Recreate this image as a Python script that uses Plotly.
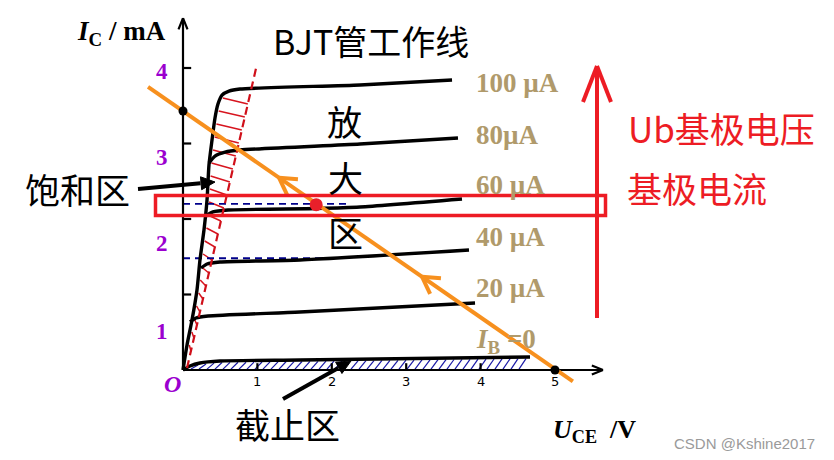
import numpy as np
import plotly.graph_objects as go

W, H = 834, 460          # browser window
BODY = 8                 # default page margin around the plot div
FW, FH = W - 2 * BODY, H - 2 * BODY
# reference geometry: origin of the axes at window pixel (183, 370); px per V / per mA
OX, OY, SX, SY = 183.0, 370.0, 74.4, 75.5

# ---------------- data (U_CE in V, I_C in mA) ----------------
ib_labels = ["100 µA", "80µA", "60 µA", "40 µA", "20 µA", "<i>I</i><sub>B</sub> =0"]

ib100_x = [0.000, 0.054, 0.121, 0.188, 0.228, 0.282, 0.323, 0.349, 0.390, 0.430, 0.470, 0.524, 0.618, 0.766, 2.379, 3.616]
ib100_y = [0.000, 0.331, 0.662, 1.060, 1.457, 1.854, 2.252, 2.715, 3.046, 3.338, 3.523, 3.642, 3.695, 3.722, 3.775, 3.841]
ib80_x = [0.349, 0.430, 0.565, 0.766, 2.379, 3.696]
ib80_y = [2.742, 2.834, 2.887, 2.914, 2.993, 3.073]
ib60_x = [0.309, 0.403, 0.605, 1.788, 2.379, 3.750]
ib60_y = [2.040, 2.093, 2.119, 2.139, 2.159, 2.265]
ib40_x = [0.242, 0.323, 0.497, 1.573, 3.844]
ib40_y = [1.351, 1.404, 1.430, 1.457, 1.589]
ib20_x = [0.094, 0.175, 0.336, 1.573, 3.925]
ib20_y = [0.636, 0.689, 0.715, 0.768, 0.887]
ib0_x = [0.000, 0.094, 0.228, 0.497, 1.573, 4.664]
ib0_y = [0.000, 0.053, 0.093, 0.119, 0.132, 0.172]

sat_x = [0.054, 0.995]          # saturation boundary (red dashed)
sat_y = [0.026, 4.053]
load_x = [-0.47, 5.24]          # load line
load_y = [3.75, -0.15]
intercept_x = [0.0, 5.0]        # Vcc / Rc and Vcc
intercept_y = [3.43, 0.0]
q_x = [1.79]                    # operating point
q_y = [2.19]
dash1_x = [0.0, 2.24]
dash1_y = [2.20, 2.20]
dash2_x = [0.0, 2.04]
dash2_y = [1.48, 1.48]

x_ticks = [1, 2, 3, 4, 5]
x_ticklabels = ["1", "2", "3", "4", "5"]
y_ticks = [1, 2, 3, 4]
y_ticklabels = ["1", "2", "3", "4"]
x_axis_end = 5.645
y_axis_end = 4.66

# ---------------- helpers ----------------
def to_px(x, y):
    return OX + x * SX, OY - y * SY

def to_data(px, py):
    return (px - OX) / SX, (OY - py) / SY

def pp(px, py):
    return (px - BODY) / FW, 1 - (py - BODY) / FH

def chevron(tip_x, tip_y, back_dx, back_dy, length, half_angle_deg):
    """two arm segments of an open arrow head (data coords)"""
    tx, ty = to_px(tip_x, tip_y)
    n = np.hypot(back_dx, back_dy)
    bx, by = back_dx / n, back_dy / n
    xs, ys = [], []
    for s in (1, -1):
        a = np.radians(half_angle_deg) * s
        rx = bx * np.cos(a) - by * np.sin(a)
        ry = bx * np.sin(a) + by * np.cos(a)
        ex, ey = tx + length * rx, ty + length * ry
        d0 = to_data(tx, ty)
        d1 = to_data(ex, ey)
        xs += [d0[0], d1[0], None]
        ys += [d0[1], d1[1], None]
    return xs, ys

fig = go.Figure()

# blue hatched cut-off region (strokes between the axis and the I_B=0 curve)
hx, hy = [], []
for p in np.arange(191, 522, 8.0):
    xb = to_data(p, 0)[0]
    xt = to_data(p + 7, 0)[0]
    yt = float(np.interp(xt, ib0_x, ib0_y)) - 0.02
    hx += [xb, xt, None]
    hy += [0.012, yt, None]
fig.add_trace(go.Scatter(x=hx, y=hy, mode="lines", line=dict(color="#1a1aa6", width=1.2), hoverinfo="skip"))

# red hatched saturation region (strokes between steep part of curves and boundary)
top_i = 11
rx_, ry_ = [], []
for p in np.arange(98, 362, 13.0):
    yl = to_data(0, p)[1]
    xl = float(np.interp(yl, ib100_y[:top_i + 1], ib100_x[:top_i + 1])) + 0.03
    yr = to_data(0, p + 6)[1]
    xr = float(np.interp(yr, sat_y, sat_x))
    if xr > xl + 0.02:
        rx_ += [xl, xr, None]
        ry_ += [yl, yr, None]
fig.add_trace(go.Scatter(x=rx_, y=ry_, mode="lines", line=dict(color="#d7141e", width=1.5), hoverinfo="skip"))

# blue dashed guide lines
for xx, yy in ((dash1_x, dash1_y), (dash2_x, dash2_y)):
    fig.add_trace(go.Scatter(x=xx, y=yy, mode="lines",
                             line=dict(color="#00008b", width=1.8, dash="7px,5px"), hoverinfo="skip"))

# axes
ax_x = [0, x_axis_end, None, 0, 0]
ax_y = [0, 0, None, 0, y_axis_end]
for t in x_ticks[:4]:
    ax_x += [None, t, t]
    ax_y += [None, 0, 0.09]
for t in y_ticks:
    ax_x += [None, 0, 0.11]
    ax_y += [None, t, t]
cx, cy = chevron(x_axis_end, 0, -1, 0, 12, 22)
ax_x += [None] + cx
ax_y += [None] + cy
cx, cy = chevron(0, y_axis_end, 0, 1, 12, 22)
ax_x += [None] + cx
ax_y += [None] + cy
fig.add_trace(go.Scatter(x=ax_x, y=ax_y, mode="lines", line=dict(color="black", width=2.2), hoverinfo="skip"))

# output characteristic curves
for xx, yy in ((ib100_x, ib100_y), (ib80_x, ib80_y), (ib60_x, ib60_y),
               (ib40_x, ib40_y), (ib20_x, ib20_y), (ib0_x, ib0_y)):
    fig.add_trace(go.Scatter(x=xx, y=yy, mode="lines",
                             line=dict(color="black", width=3.4, shape="spline", smoothing=0.6),
                             hoverinfo="skip"))

# saturation boundary
fig.add_trace(go.Scatter(x=sat_x, y=sat_y, mode="lines",
                         line=dict(color="#d0101a", width=2.2, dash="8px,5px"), hoverinfo="skip"))

# load line with direction arrows
fig.add_trace(go.Scatter(x=load_x, y=load_y, mode="lines", line=dict(color="#f7901e", width=4), hoverinfo="skip"))
lpx0, lpy0 = to_px(load_x[0], load_y[0])
lpx1, lpy1 = to_px(load_x[1], load_y[1])
chx, chy = [], []
for vx_px in (279, 422):
    vx = to_data(vx_px, 0)[0]
    vy = float(np.interp(vx, load_x, load_y))
    a, b = chevron(vx, vy, lpx1 - lpx0, lpy1 - lpy0, 19, 30)
    chx += a
    chy += b
fig.add_trace(go.Scatter(x=chx, y=chy, mode="lines", line=dict(color="#f7901e", width=4), hoverinfo="skip"))

# black pointer arrows (shaft + filled head)
for (tipx, tipy), (tx, ty) in (((215, 182), (138, 189)), ((351, 361), (283, 399))):
    d = np.array([tx - tipx, ty - tipy], float)
    d /= np.hypot(*d)
    nrm = np.array([-d[1], d[0]])
    base = np.array([tipx, tipy]) + 14 * d
    p1 = base + 6.5 * nrm
    p2 = base - 6.5 * nrm
    s0 = to_data(tx, ty)
    s1 = to_data(*(base + 0.5 * d))
    fig.add_trace(go.Scatter(x=[s0[0], s1[0]], y=[s0[1], s1[1]], mode="lines",
                             line=dict(color="black", width=4), hoverinfo="skip"))
    tri = [to_data(tipx, tipy), to_data(*p1), to_data(*p2), to_data(tipx, tipy)]
    fig.add_trace(go.Scatter(x=[q[0] for q in tri], y=[q[1] for q in tri], mode="lines", fill="toself",
                             fillcolor="black", line=dict(color="black", width=1), hoverinfo="skip"))

# points
fig.add_trace(go.Scatter(x=intercept_x, y=intercept_y, mode="markers",
                         marker=dict(color="black", size=9), hoverinfo="skip"))
fig.add_trace(go.Scatter(x=q_x, y=q_y, mode="markers",
                         marker=dict(color="#e8202a", size=13), hoverinfo="skip"))

# ---------------- shapes (red markup) ----------------
RED = "#ed1c24"
shapes = []
x0, y0 = pp(155.5, 195.5)
x1, y1 = pp(605.5, 215.5)
shapes.append(dict(type="rect", xref="paper", yref="paper", x0=x0, y0=y1, x1=x1, y1=y0,
                   line=dict(color=RED, width=3.5), layer="above"))
for (a, b), (c, d) in (((597, 318), (597, 66)), ((597, 66), (583, 102)), ((597, 66), (611, 102))):
    p0 = pp(a, b)
    p1 = pp(c, d)
    shapes.append(dict(type="line", xref="paper", yref="paper", x0=p0[0], y0=p0[1], x1=p1[0], y1=p1[1],
                       line=dict(color=RED, width=4), layer="above"))

# ---------------- annotations ----------------
CJK = "Noto Sans CJK SC"
SERIF = "Liberation Serif"
TAN = "#b09a6b"
PURPLE = "#9b00cf"
ann = []

def text(px, py, s, size, color="black", family=CJK, xanchor="center"):
    x, y = pp(px, py)
    ann.append(dict(x=x, y=y, xref="paper", yref="paper", text=s, showarrow=False,
                    font=dict(family=family, size=size, color=color), xanchor=xanchor, yanchor="middle"))

text(75, 33, "<b><i>I</i><sub>C</sub> / mA</b>", 27, family=SERIF, xanchor="left")
text(371, 40, "BJT管工作线", 34)
text(344, 121, "放", 35)
text(345, 176, "大", 35)
text(345, 232, "区", 35)
text(77, 189, "饱和区", 35)
text(287, 423, "截止区", 35)
text(721, 127, "Ub基极电压", 35, color=RED)
text(697, 187, "基极电流", 35, color=RED)
for s, yy in zip(ib_labels, (83, 135, 185, 237, 288, 341)):
    text(474, yy, "<b>" + s + "</b>", 27, color=TAN, family=SERIF, xanchor="left")
for s, yy in zip(y_ticklabels, (331, 243, 157, 72)):
    text(162, yy, "<b>" + s + "</b>", 23, color=PURPLE, family=SERIF)
text(172, 384, "<b><i>O</i></b>", 24, color=PURPLE, family=SERIF)
for t, s in zip(x_ticks, x_ticklabels):
    ann.append(dict(x=t, y=pp(0, 381)[1], xref="x", yref="paper", text=s, showarrow=False,
                    font=dict(family="DejaVu Sans", size=13, color="black"), xanchor="center", yanchor="middle"))
text(551, 431, "<b><i>U</i><sub>CE</sub>  /V</b>", 26, family=SERIF, xanchor="left")
text(744, 443, "CSDN @Kshine2017", 15, color="#9a9a9a", family="Liberation Sans")

fig.update_layout(
    width=FW, height=FH, margin=dict(l=0, r=0, t=0, b=0),
    paper_bgcolor="white", plot_bgcolor="white", showlegend=False,
    xaxis=dict(range=[(BODY - OX) / SX, (W - BODY - OX) / SX], visible=False, fixedrange=True),
    yaxis=dict(range=[(OY - (H - BODY)) / SY, (OY - BODY) / SY], visible=False, fixedrange=True),
    shapes=shapes, annotations=ann,
)

fig.write_html("out.html")
